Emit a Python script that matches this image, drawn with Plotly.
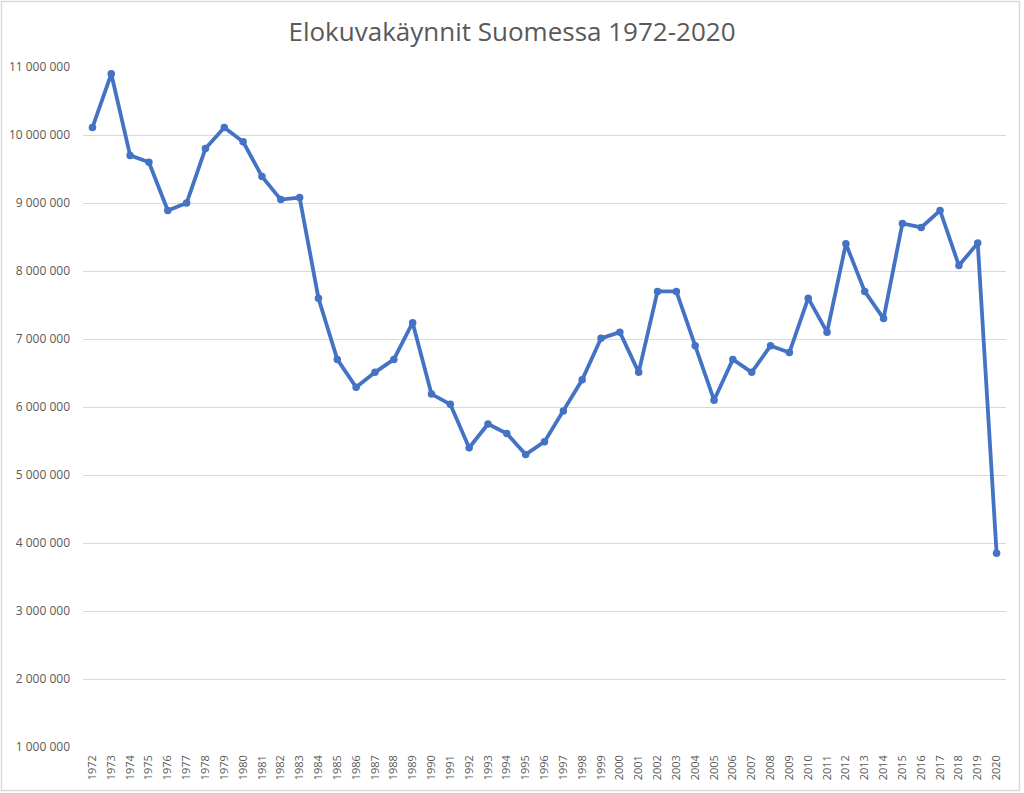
import plotly.graph_objects as go

years = [str(y) for y in range(1972, 2021)]
visits = [
    10110000, 10900000, 9700000, 9600000, 8890000, 9000000, 9800000, 10110000,
    9900000, 9390000, 9050000, 9080000, 7600000, 6700000, 6290000, 6510000,
    6700000, 7240000, 6190000, 6040000, 5400000, 5750000, 5610000, 5300000,
    5490000, 5940000, 6400000, 7010000, 7100000, 6510000, 7700000, 7700000,
    6900000, 6100000, 6700000, 6510000, 6900000, 6800000, 7600000, 7100000,
    8400000, 7700000, 7300000, 8700000, 8640000, 8890000, 8080000, 8410000,
    3850000,
]
title_text = "Elokuvakäynnit Suomessa 1972-2020"
y_ticks = list(range(1000000, 11000001, 1000000))

W, H = 1024, 793
ml, mr, mt, mb = 83, 18, 67, 46
pw, ph = W - ml - mr, H - mt - mb

fig = go.Figure()
fig.add_trace(go.Scatter(
    x=years, y=visits, mode="lines+markers",
    line=dict(color="#4472C4", width=3.8),
    marker=dict(color="#4472C4", size=7.5),
    hoverinfo="x+y",
))

def px_x(p):
    return (p - ml) / pw

def px_y(p):
    return (H - mb - p) / ph

fig.update_layout(
    width=W, height=H,
    margin=dict(l=ml, r=mr, t=mt, b=mb),
    paper_bgcolor="white", plot_bgcolor="white",
    separators=", ",
    showlegend=False,
    font=dict(family="Open Sans, Liberation Sans, sans-serif", color="#595959"),
    title=dict(text=title_text, x=0.5, xanchor="center", y=1 - 32 / H, yanchor="middle",
               font=dict(size=26, color="#595959")),
    xaxis=dict(
        type="category", range=[-0.5, len(years) - 0.5], automargin=False,
        tickangle=-90, tickfont=dict(size=11, color="#595959"),
        showgrid=False, showline=False, ticks="", ticklabelstandoff=5,
    ),
    yaxis=dict(
        range=[1000000, 11000000], tickvals=y_ticks, tickformat=",d", automargin=False,
        tickfont=dict(size=12, color="#595959"),
        showgrid=True, gridcolor="#D9D9D9", gridwidth=1,
        zeroline=False, showline=False, ticks="", ticklabelstandoff=12,
    ),
    shapes=[dict(
        type="rect", xref="paper", yref="paper",
        x0=px_x(1.5), x1=px_x(1019.5), y0=px_y(1.5), y1=px_y(790.5),
        line=dict(color="#D9D9D9", width=1.5), fillcolor="rgba(0,0,0,0)", layer="below",
    )],
)

fig.write_html(
    "out.html",
    config={"displayModeBar": False},
    post_script="document.body.style.margin='0';document.body.style.overflow='hidden';",
)
